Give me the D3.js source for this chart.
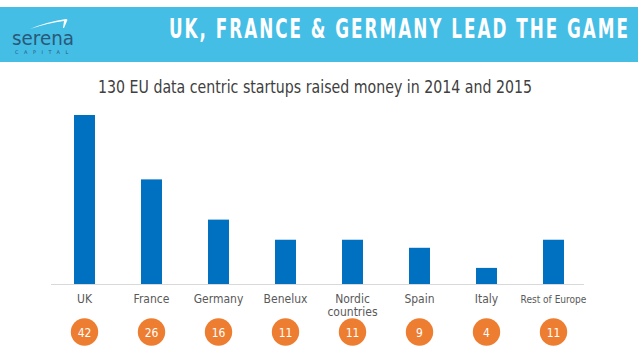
<!DOCTYPE html>
<html><head><meta charset="utf-8">
<script src="https://cdn.jsdelivr.net/npm/d3@7"></script>
<style>
html,body{margin:0;padding:0;background:#fff;}
svg{display:block;}
.cond{font-family:"DejaVu Sans Condensed","DejaVu Sans",sans-serif;font-stretch:condensed;}
</style></head>
<body><svg id="c" width="638" height="359"></svg>
<script>
const categories = ["UK","France","Germany","Benelux","Nordic\ncountries","Spain","Italy","Rest of Europe"];
const values = [42,26,16,11,11,9,4,11];
const headerTitle = "UK, FRANCE & GERMANY LEAD THE GAME";
const chartTitle = "130 EU data centric startups raised money in 2014 and 2015";

const svg = d3.select("#c");
function fit(sel, target, size){
  sel.attr("font-size", size);
  const w = sel.node().getComputedTextLength();
  if (w > target) sel.attr("font-size", size*target/w);
  return sel;
}
// header band
svg.append("rect").attr("x",0).attr("y",7).attr("width",638).attr("height",55).attr("fill","#45bee6");
const hg = svg.append("g").attr("transform","translate(630,38) scale(1,1.4)");
const ht = hg.append("text").attr("class","cond").attr("x",0).attr("y",0).attr("text-anchor","end")
  .attr("fill","#fff").attr("font-weight","bold").attr("letter-spacing",2).text(headerTitle);
fit(ht, 442, 26);
// logo
svg.append("path").attr("d","M30,29 Q46,22 66,19 Q68,19 67,21 L64,28 L63,28 L64,21 Q48,23 30,29 Z").attr("fill","#fff");
svg.append("text").attr("x",12).attr("y",45).attr("font-family","DejaVu Sans, sans-serif")
  .attr("font-size",19).attr("fill","#2a5878").attr("textLength",62).attr("lengthAdjust","spacingAndGlyphs").text("serena");
svg.append("text").attr("x",15).attr("y",54).attr("font-family","DejaVu Sans, sans-serif")
  .attr("font-size",5).attr("fill","#2a5878").attr("letter-spacing",5.5).text("CAPITAL");

// chart title
const tg = svg.append("g").attr("transform","translate(315,93) scale(1,1.15)");
const tt = tg.append("text").attr("class","cond").attr("x",0).attr("y",0).attr("text-anchor","middle")
  .attr("fill","#404040").text(chartTitle);
fit(tt, 434, 20);

const x = d3.scaleBand().domain(categories).range([51,587]).paddingInner(0.687).paddingOuter(0.3435);
const y = d3.scaleLinear().domain([0,42]).range([284,115]);

svg.append("g").selectAll("rect").data(values).join("rect")
  .attr("x",(d,i)=>x(categories[i])).attr("width",x.bandwidth())
  .attr("y",d=>y(d)).attr("height",d=>y(0)-y(d)).attr("fill","#0070c0");

svg.append("line").attr("x1",51).attr("x2",584).attr("y1",y(0)+0.5).attr("y2",y(0)+0.5)
  .attr("stroke","#d9d9d9").attr("stroke-width",1);

const cx = c => x(c)+x.bandwidth()/2;
const lab = svg.append("g").attr("class","cond").attr("fill","#595959").attr("text-anchor","middle");
categories.forEach(c=>{
  const t = lab.append("text").attr("x",cx(c)).attr("y",303).attr("font-size",12);
  c.split("\n").forEach((line,j)=>t.append("tspan").attr("x",cx(c)).attr("dy",j?13:0).text(line));
  if (c === "Rest of Europe") fit(t, 66, 12);
});

const g = svg.append("g");
g.selectAll("circle").data(values).join("circle")
  .attr("cx",(d,i)=>cx(categories[i])).attr("cy",332).attr("r",13.7).attr("fill","#ed7d31");
g.selectAll("text").data(values).join("text").attr("class","cond")
  .attr("x",(d,i)=>cx(categories[i])).attr("y",336.5).attr("text-anchor","middle")
  .attr("font-size",12).attr("fill","#fff").text(d=>d);
</script></body></html>
